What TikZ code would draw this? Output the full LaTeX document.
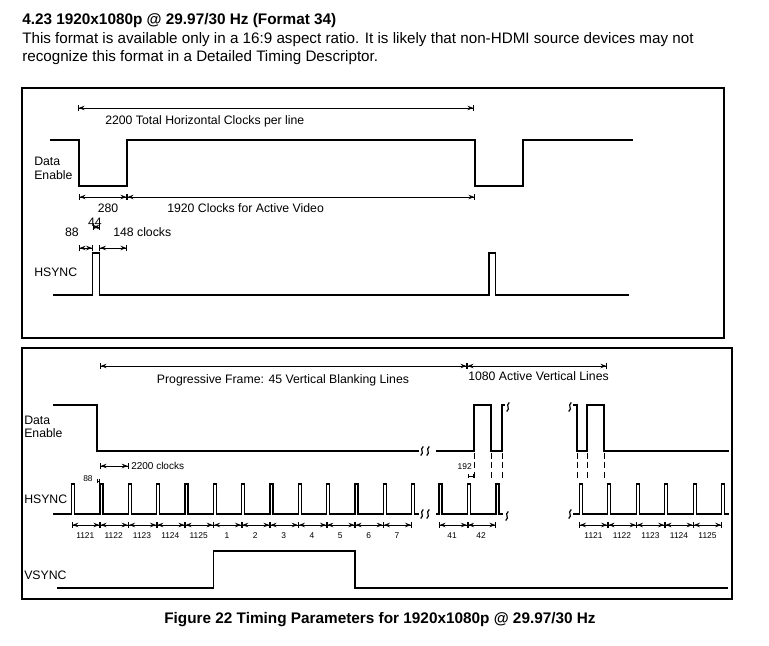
\documentclass[tikz,border=0pt]{standalone}
\usepackage{fontspec}
\setmainfont{Liberation Sans}
\usetikzlibrary{arrows.meta}
\def\breakmark(#1,#2){\draw[line width=0.9pt] (#1+1.3,#2-4.5) .. controls (#1-3,#2-1.2) and (#1+3,#2+1.2) .. (#1-1.3,#2+4.5);}

\begin{document}
\begin{tikzpicture}[x=0.75pt, y=-0.75pt,
	sig/.style={line width=0.9pt},
	frame/.style={line width=0.9pt},
	dimline/.style={line width=0.5pt, {Bar[width=4.5pt]Stealth[length=4.5pt,width=3.4pt,inset=1.6pt]}-{Stealth[length=4.5pt,width=3.4pt,inset=1.6pt]Bar[width=4.5pt]}},
	tickline/.style={line width=0.5pt, {Bar[width=3.5pt]}-{Bar[width=3.5pt]}},
	lbl/.style={inner sep=0pt, font=\fontsize{9.2}{11}\selectfont},
	tinylbl/.style={inner sep=0pt, font=\fontsize{6.3}{7}\selectfont}]
			%%%%% START %%%%%
			\useasboundingbox (0,0) rectangle (769,646);
			
			\node[anchor=west, inner sep=0pt, font=\bfseries\fontsize{11.5}{13}\selectfont] (ttl) at (22,21) {4.23 1920x1080p @ 29.97/30 Hz (Format 34)};
			\node[anchor=west, inner sep=0pt, font=\fontsize{11.4}{13}\selectfont] (intro1) at (22,40) {This format is available only in a 16:9 aspect ratio. It is likely that non-HDMI source devices may not};
			\node[anchor=west, inner sep=0pt, font=\fontsize{11.4}{13}\selectfont] (intro2) at (22,58) {recognize this format in a Detailed Timing Descriptor.};
			
			%%%%% horizontal timing %%%%%
			\draw[frame] (22,88) rectangle (724,338);
			
			\draw[dimline] (78,108) -- (474,108);
			\node[lbl, anchor=west] (htotal) at (105,121) {2200 Total Horizontal Clocks per line};
			
			\draw[sig] (50,140) -- (79,140) -- (79,186) -- (127,186) -- (127,140) -- (475,140) -- (475,186) -- (523,186) -- (523,140) -- (633,140);
			\node[lbl, anchor=west] (deA) at (34,161) {Data};
			\node[lbl, anchor=west] (deB) at (34,175) {Enable};
			
			\draw[dimline] (79,197) -- (127,197);
			\draw[dimline] (127,197) -- (475,197);
			\node[lbl] (hblank) at (108,208) {280};
			\node[lbl, anchor=west] (hactive) at (167,208) {1920 Clocks for Active Video};
			
			\node[lbl] (hsw) at (95,222) {44};
			\draw[dimline] (92.7,227) -- (99.3,227);
			\node[lbl] (hfp) at (72,232) {88};
			\node[lbl, anchor=west] (hbp) at (113,232) {148 clocks};
			\draw[dimline] (79,248) -- (92.7,248);
			\draw[dimline] (99.3,248) -- (127,248);
			
			\node[lbl, anchor=west] (hsA) at (34,272) {HSYNC};
			\draw[sig] (53,295) -- (92.7,295) -- (92.7,253) -- (99.3,253) -- (99.3,295) -- (489,295) -- (489,253) -- (495.3,253) -- (495.3,295) -- (629,295);
			
			%%%%% vertical timing %%%%%
			\draw[frame] (22,348) rectangle (732,599);
			
			\draw[dimline] (100,366) -- (467,366);
			\draw[dimline] (467,366) -- (607,366);
			\node[lbl] (vblank) at (283,380) {Progressive Frame: 45 Vertical Blanking Lines};
			\node[lbl, anchor=west] (vactive) at (468,376) {1080 Active Vertical Lines};
			
			\node[lbl, anchor=west] (deC) at (24,420) {Data};
			\node[lbl, anchor=west] (deD) at (24,433) {Enable};
			\draw[sig] (53,405) -- (97,405) -- (97,451) -- (419,451);
			\breakmark(422,451)
			\breakmark(428,451)
			\draw[sig] (436,451) -- (474,451) -- (474,405) -- (491,405) -- (491,451) -- (502,451) -- (502,405) -- (505,405);
			\breakmark(508,407)
			\breakmark(570,407)
			\draw[sig] (573,405) -- (577,405) -- (577,451) -- (587,451) -- (587,405) -- (604,405) -- (604,451) -- (729,451);
			
			\draw[line width=0.6pt, dash pattern=on 4.5pt off 2.5pt] (474,453) -- (474,480);
			\draw[line width=0.6pt, dash pattern=on 4.5pt off 2.5pt] (491,453) -- (491,480);
			\draw[line width=0.6pt, dash pattern=on 4.5pt off 2.5pt] (502,453) -- (502,480);
			\draw[line width=0.6pt, dash pattern=on 4.5pt off 2.5pt] (577,453) -- (577,480);
			\draw[line width=0.6pt, dash pattern=on 4.5pt off 2.5pt] (587,453) -- (587,480);
			\draw[line width=0.6pt, dash pattern=on 4.5pt off 2.5pt] (604,453) -- (604,480);
			
			\draw[dimline] (100,466) -- (128.4,466);
			\node[anchor=west, inner sep=0pt, font=\fontsize{7.5}{8}\selectfont] (hline) at (131,466) {2200 clocks};
			\node[tinylbl] (vfp) at (88,479) {88};
			\draw[tickline] (96.7,481) -- (100,481);
			\node[tinylbl, anchor=east] (lead) at (472,467) {192};
			\draw[tickline] (467.5,476) -- (474,476);
			
			\node[lbl, anchor=west] (hsB) at (24,499) {HSYNC};
			\draw[sig] (53,514) -- (71.7,514) -- (71.7,484) -- (74.7,484) -- (74.7,514)
				-- (100,514) -- (100,484) -- (103,484) -- (103,514)
				-- (128.4,514) -- (128.4,484) -- (131.4,484) -- (131.4,514)
				-- (156.7,514) -- (156.7,484) -- (159.7,484) -- (159.7,514)
				-- (185,514) -- (185,484) -- (188,484) -- (188,514)
				-- (213.4,514) -- (213.4,484) -- (216.4,484) -- (216.4,514)
				-- (241.7,514) -- (241.7,484) -- (244.7,484) -- (244.7,514)
				-- (270,514) -- (270,484) -- (273,484) -- (273,514)
				-- (298.3,514) -- (298.3,484) -- (301.3,484) -- (301.3,514)
				-- (326.7,514) -- (326.7,484) -- (329.7,484) -- (329.7,514)
				-- (355,514) -- (355,484) -- (358,484) -- (358,514)
				-- (383.3,514) -- (383.3,484) -- (386.3,484) -- (386.3,514)
				-- (411.7,514) -- (411.7,484) -- (414.7,484) -- (414.7,514) -- (419,514);
			\breakmark(422,514)
			\breakmark(428,514)
			\draw[sig] (436,514) -- (439,514) -- (439,484) -- (442,484) -- (442,514)
				-- (467.5,514) -- (467.5,484) -- (470.5,484) -- (470.5,514)
				-- (496,514) -- (496,484) -- (499,484) -- (499,514) -- (503,514);
			\breakmark(507,516)
			\breakmark(570,514)
			\draw[sig] (573,514) -- (579.3,514) -- (579.3,484) -- (582.3,484) -- (582.3,514)
				-- (607.8,514) -- (607.8,484) -- (610.8,484) -- (610.8,514)
				-- (636.3,514) -- (636.3,484) -- (639.3,484) -- (639.3,514)
				-- (664.8,514) -- (664.8,484) -- (667.8,484) -- (667.8,514)
				-- (693.3,514) -- (693.3,484) -- (696.3,484) -- (696.3,514)
				-- (721.8,514) -- (721.8,484) -- (724.8,484) -- (724.8,514) -- (728.7,514);
			
			\draw[dimline] (71.7,525) -- (100,525);
			\draw[dimline] (100,525) -- (128.4,525);
			\draw[dimline] (128.4,525) -- (156.7,525);
			\draw[dimline] (156.7,525) -- (185,525);
			\draw[dimline] (185,525) -- (213.4,525);
			\draw[dimline] (213.4,525) -- (241.7,525);
			\draw[dimline] (241.7,525) -- (270,525);
			\draw[dimline] (270,525) -- (298.3,525);
			\draw[dimline] (298.3,525) -- (326.7,525);
			\draw[dimline] (326.7,525) -- (355,525);
			\draw[dimline] (355,525) -- (383.3,525);
			\draw[dimline] (383.3,525) -- (411.7,525);
			\node[tinylbl] (ln1121) at (85.3,536) {1121};
			\node[tinylbl] (ln1122) at (113.7,536) {1122};
			\node[tinylbl] (ln1123) at (142,536) {1123};
			\node[tinylbl] (ln1124) at (170.3,536) {1124};
			\node[tinylbl] (ln1125) at (198.7,536) {1125};
			\node[tinylbl] (ln1) at (227,536) {1};
			\node[tinylbl] (ln2) at (255.3,536) {2};
			\node[tinylbl] (ln3) at (283.7,536) {3};
			\node[tinylbl] (ln4) at (312,536) {4};
			\node[tinylbl] (ln5) at (340.3,536) {5};
			\node[tinylbl] (ln6) at (368.7,536) {6};
			\node[tinylbl] (ln7) at (397,536) {7};
			
			\draw[dimline] (439,525) -- (467.5,525);
			\draw[dimline] (467.5,525) -- (496,525);
			\node[tinylbl] (ln41) at (452,536) {41};
			\node[tinylbl] (ln42) at (481,536) {42};
			
			\draw[dimline] (579.3,525) -- (607.8,525);
			\draw[dimline] (607.8,525) -- (636.3,525);
			\draw[dimline] (636.3,525) -- (664.8,525);
			\draw[dimline] (664.8,525) -- (693.3,525);
			\draw[dimline] (693.3,525) -- (721.8,525);
			\node[tinylbl] (rn1121) at (593.5,536) {1121};
			\node[tinylbl] (rn1122) at (622,536) {1122};
			\node[tinylbl] (rn1123) at (650.5,536) {1123};
			\node[tinylbl] (rn1124) at (679,536) {1124};
			\node[tinylbl] (rn1125) at (707.5,536) {1125};
			
			\node[lbl, anchor=west] (vsA) at (24,575) {VSYNC};
			\draw[sig] (57,588) -- (213.4,588) -- (213.4,551) -- (355,551) -- (355,588) -- (728,588);
			
			\node[inner sep=0pt, font=\bfseries\fontsize{11.5}{13}\selectfont] (cap) at (380,620) {Figure 22 Timing Parameters for 1920x1080p @ 29.97/30 Hz};
			%%%%% END %%%%%
\end{tikzpicture}
\end{document}
